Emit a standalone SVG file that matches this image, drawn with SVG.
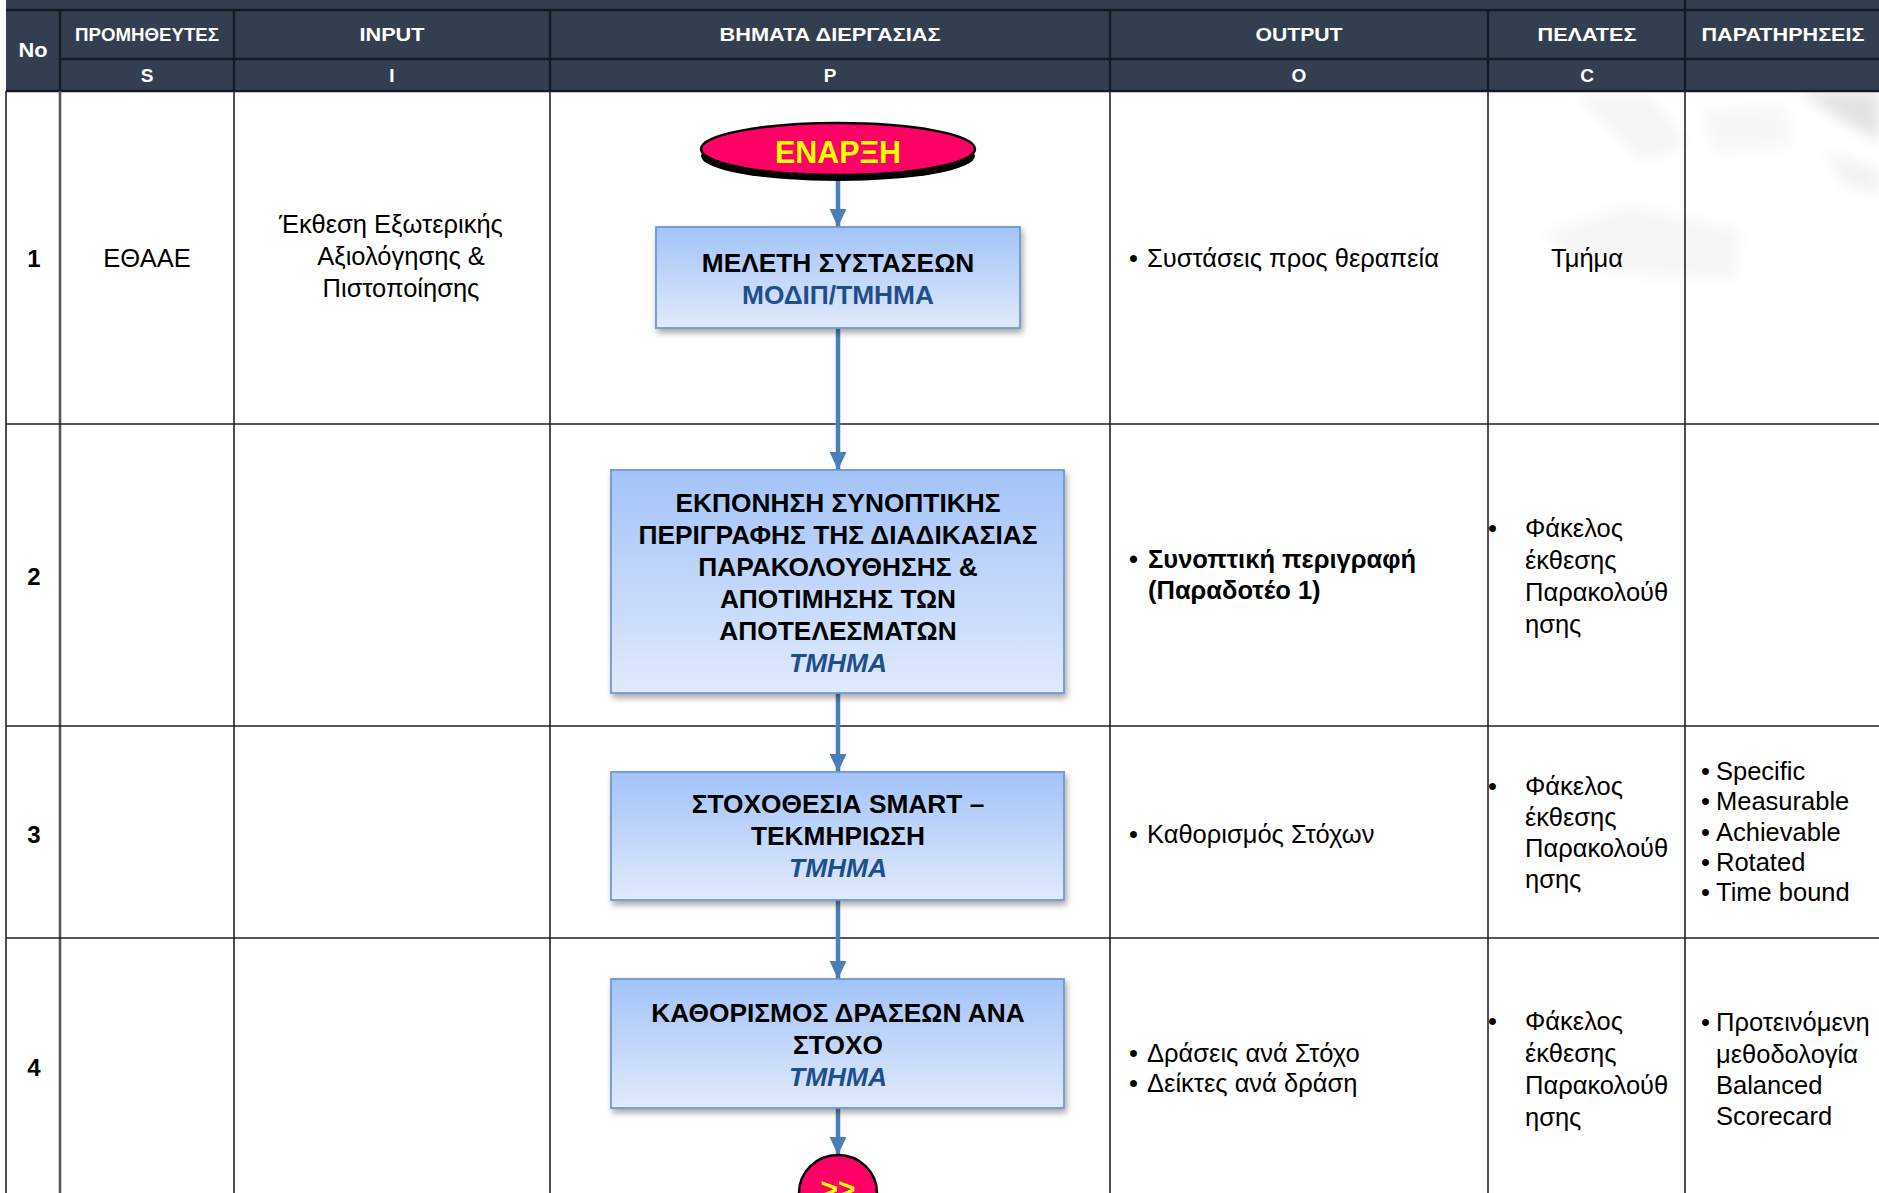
<svg xmlns="http://www.w3.org/2000/svg" width="1879" height="1193" viewBox="0 0 1879 1193">
  <style>
    .hd { font-family: "Liberation Sans Narrow", "Liberation Sans", Arial, sans-serif; font-weight: bold; fill: #ffffff; text-anchor: middle; }
    .body { font-family: "Liberation Sans", Arial, sans-serif; font-size: 25.5px; fill: #000000; }
    .num { font-family: "Liberation Sans", Arial, sans-serif; font-size: 24px; font-weight: bold; fill: #000000; text-anchor: middle; }
    .mid { text-anchor: middle; }
    .bold { font-weight: bold; }
    .grid { stroke: #222222; stroke-width: 1.6; fill: none; }
    .hgrid { stroke: #151a22; stroke-width: 2.4; fill: none; }
    .step { fill: url(#stepFill); stroke: #6f98d0; stroke-width: 1.8; filter: url(#shadow); }
    .stepTxt { font-family: "Liberation Sans", Arial, sans-serif; font-size: 26.3px; font-weight: bold; fill: #000000; text-anchor: middle; }
    .owner { fill: #1f4e8c; }
    .ital { font-style: italic; }
    .term { fill: #ff0066; stroke: #000000; stroke-width: 2.5; }
    .termTxt { font-family: "Liberation Sans", Arial, sans-serif; font-weight: bold; fill: #ffff00; text-anchor: middle; }
    .flow { stroke: #4a7ebb; stroke-width: 4.5; fill: none; marker-end: url(#head); }
  </style>
  <defs>
    <linearGradient id="stepFill" x1="0" y1="0" x2="0" y2="1">
      <stop offset="0" stop-color="#a3c3f8"/>
      <stop offset="1" stop-color="#e0eafc"/>
    </linearGradient>
    <filter id="shadow" x="-10%" y="-10%" width="120%" height="130%">
      <feDropShadow dx="2" dy="4" stdDeviation="3" flood-color="#000000" flood-opacity="0.35"/>
    </filter>
    <filter id="soft" x="-20%" y="-20%" width="140%" height="140%">
      <feGaussianBlur stdDeviation="7"/>
    </filter>
    <marker id="head" viewBox="0 0 18 17" refX="18" refY="8.5" markerWidth="18" markerHeight="17" markerUnits="userSpaceOnUse" orient="auto">
      <path d="M0,0 L18,8.5 L0,17 Z" fill="#4a7ebb"/>
    </marker>
  </defs>

  <rect x="0" y="0" width="1879" height="1193" fill="#ffffff"/>

  <!-- faint watermark logo behind the right-hand cells -->
  <g filter="url(#soft)">
    <polygon points="1575,95 1650,95 1690,145 1640,160 1605,125" fill="#f5f5f5"/>
    <polygon points="1800,92 1879,92 1879,140 1850,125" fill="#e2e2e2"/>
    <polygon points="1825,150 1879,170 1879,195 1845,185" fill="#f2f2f2"/>
    <polygon points="1540,235 1630,205 1740,230 1735,280 1600,272" fill="#f6f6f6"/>
    <polygon points="1700,110 1785,105 1795,145 1715,155" fill="#f7f7f7"/>
  </g>

  <!-- header band -->
  <g id="header">
    <rect x="6" y="0" width="1873" height="91" fill="#333f50"/>
    <line class="hgrid" x1="6" y1="10" x2="1879" y2="10"/>
    <line class="hgrid" x1="60" y1="59" x2="1879" y2="59"/>
    <line class="hgrid" x1="6" y1="91" x2="1879" y2="91"/>
    <line class="hgrid" x1="60" y1="10" x2="60" y2="91"/>
    <line class="hgrid" x1="234" y1="10" x2="234" y2="91"/>
    <line class="hgrid" x1="550" y1="10" x2="550" y2="91"/>
    <line class="hgrid" x1="1110" y1="10" x2="1110" y2="91"/>
    <line class="hgrid" x1="1488" y1="10" x2="1488" y2="91"/>
    <line class="hgrid" x1="1685" y1="0" x2="1685" y2="91"/>
    <text class="hd" x="33" y="57" font-size="21" textLength="29" lengthAdjust="spacingAndGlyphs">No</text>
    <text class="hd" x="147" y="41" font-size="19" textLength="144" lengthAdjust="spacingAndGlyphs">ΠΡΟΜΗΘΕΥΤΕΣ</text>
    <text class="hd" x="392" y="41" font-size="19" textLength="65" lengthAdjust="spacingAndGlyphs">INPUT</text>
    <text class="hd" x="830" y="41" font-size="19" textLength="221" lengthAdjust="spacingAndGlyphs">ΒΗΜΑΤΑ ΔΙΕΡΓΑΣΙΑΣ</text>
    <text class="hd" x="1299" y="41" font-size="19" textLength="87" lengthAdjust="spacingAndGlyphs">OUTPUT</text>
    <text class="hd" x="1587" y="41" font-size="19" textLength="99" lengthAdjust="spacingAndGlyphs">ΠΕΛΑΤΕΣ</text>
    <text class="hd" x="1783" y="41" font-size="19" textLength="163" lengthAdjust="spacingAndGlyphs">ΠΑΡΑΤΗΡΗΣΕΙΣ</text>
    <text class="hd" x="147" y="82" font-size="19">S</text>
    <text class="hd" x="392" y="82" font-size="19">I</text>
    <text class="hd" x="830" y="82" font-size="19">P</text>
    <text class="hd" x="1299" y="82" font-size="19">O</text>
    <text class="hd" x="1587" y="82" font-size="19">C</text>
  </g>

  <!-- body grid -->
  <g id="grid">
    <line class="grid" x1="6" y1="91" x2="6" y2="1193"/>
    <line x1="60" y1="91" x2="60" y2="1193" stroke="#555555" stroke-width="2.6"/>
    <line class="grid" x1="234" y1="91" x2="234" y2="1193"/>
    <line class="grid" x1="550" y1="91" x2="550" y2="1193"/>
    <line class="grid" x1="1110" y1="91" x2="1110" y2="1193"/>
    <line class="grid" x1="1488" y1="91" x2="1488" y2="1193"/>
    <line class="grid" x1="1685" y1="91" x2="1685" y2="1193"/>
    <line class="grid" x1="6" y1="424" x2="1879" y2="424"/>
    <line class="grid" x1="6" y1="726" x2="1879" y2="726"/>
    <line class="grid" x1="6" y1="938" x2="1879" y2="938"/>
  </g>

  <!-- row 1 -->
  <g id="row1">
    <text class="num" x="34" y="267">1</text>
    <text class="body mid" x="147" y="267">ΕΘΑΑΕ</text>
    <text class="body mid" x="391" y="233">Έκθεση Εξωτερικής</text>
    <text class="body mid" x="401" y="265">Αξιολόγησης &amp;</text>
    <text class="body mid" x="401" y="297">Πιστοποίησης</text>
    <text class="body" x="1129" y="267">•</text>
    <text class="body" x="1147" y="267">Συστάσεις προς θεραπεία</text>
    <text class="body mid" x="1587" y="267">Τμήμα</text>
  </g>

  <!-- row 2 -->
  <g id="row2">
    <text class="num" x="34" y="585">2</text>
    <text class="body bold" x="1129" y="568">•</text>
    <text class="body bold" x="1148" y="568">Συνοπτική περιγραφή</text>
    <text class="body bold" x="1148" y="599">(Παραδοτέο 1)</text>
    <text class="body" x="1488" y="537">•</text>
    <text class="body" x="1525" y="537">Φάκελος</text>
    <text class="body" x="1525" y="569">έκθεσης</text>
    <text class="body" x="1525" y="601">Παρακολούθ</text>
    <text class="body" x="1525" y="633">ησης</text>
  </g>

  <!-- row 3 -->
  <g id="row3">
    <text class="num" x="34" y="843">3</text>
    <text class="body" x="1129" y="843">•</text>
    <text class="body" x="1147" y="843">Καθορισμός Στόχων</text>
    <text class="body" x="1488" y="795">•</text>
    <text class="body" x="1525" y="795">Φάκελος</text>
    <text class="body" x="1525" y="826">έκθεσης</text>
    <text class="body" x="1525" y="857">Παρακολούθ</text>
    <text class="body" x="1525" y="888">ησης</text>
    <text class="body" x="1701" y="780">•</text>
    <text class="body" x="1716" y="780">Specific</text>
    <text class="body" x="1701" y="810">•</text>
    <text class="body" x="1716" y="810">Measurable</text>
    <text class="body" x="1701" y="841">•</text>
    <text class="body" x="1716" y="841">Achievable</text>
    <text class="body" x="1701" y="871">•</text>
    <text class="body" x="1716" y="871">Rotated</text>
    <text class="body" x="1701" y="901">•</text>
    <text class="body" x="1716" y="901">Time bound</text>
  </g>

  <!-- row 4 -->
  <g id="row4">
    <text class="num" x="34" y="1076">4</text>
    <text class="body" x="1129" y="1062">•</text>
    <text class="body" x="1147" y="1062">Δράσεις ανά Στόχο</text>
    <text class="body" x="1129" y="1092">•</text>
    <text class="body" x="1147" y="1092">Δείκτες ανά δράση</text>
    <text class="body" x="1488" y="1030">•</text>
    <text class="body" x="1525" y="1030">Φάκελος</text>
    <text class="body" x="1525" y="1062">έκθεσης</text>
    <text class="body" x="1525" y="1094">Παρακολούθ</text>
    <text class="body" x="1525" y="1126">ησης</text>
    <text class="body" x="1701" y="1031">•</text>
    <text class="body" x="1716" y="1031">Προτεινόμενη</text>
    <text class="body" x="1716" y="1063">μεθοδολογία</text>
    <text class="body" x="1716" y="1094">Balanced</text>
    <text class="body" x="1716" y="1125">Scorecard</text>
  </g>

  <!-- process flow connectors -->
  <g id="connectors">
    <line class="flow" x1="838" y1="180" x2="838" y2="227"/>
    <line class="flow" x1="838" y1="328" x2="838" y2="470"/>
    <line class="flow" x1="838" y1="693" x2="838" y2="772"/>
    <line class="flow" x1="838" y1="900" x2="838" y2="979"/>
    <line class="flow" x1="838" y1="1108" x2="838" y2="1155"/>
  </g>

  <!-- start terminator -->
  <g id="start">
    <ellipse cx="838" cy="156" rx="137" ry="25" fill="#000000"/>
    <ellipse class="term" cx="838" cy="149" rx="137" ry="26"/>
    <text class="termTxt" x="838" y="163" font-size="32" textLength="126" lengthAdjust="spacingAndGlyphs">ΕΝΑΡΞΗ</text>
  </g>

  <g id="step1">
    <rect class="step" x="656" y="227" width="364" height="101"/>
    <text class="stepTxt" x="838" y="272">ΜΕΛΕΤΗ ΣΥΣΤΑΣΕΩΝ</text>
    <text class="stepTxt owner" x="838" y="304">ΜΟΔΙΠ/ΤΜΗΜΑ</text>
  </g>

  <g id="step2">
    <rect class="step" x="611" y="470" width="453" height="223"/>
    <text class="stepTxt" x="838" y="512">ΕΚΠΟΝΗΣΗ ΣΥΝΟΠΤΙΚΗΣ</text>
    <text class="stepTxt" x="838" y="544">ΠΕΡΙΓΡΑΦΗΣ ΤΗΣ ΔΙΑΔΙΚΑΣΙΑΣ</text>
    <text class="stepTxt" x="838" y="576">ΠΑΡΑΚΟΛΟΥΘΗΣΗΣ &amp;</text>
    <text class="stepTxt" x="838" y="608">ΑΠΟΤΙΜΗΣΗΣ ΤΩΝ</text>
    <text class="stepTxt" x="838" y="640">ΑΠΟΤΕΛΕΣΜΑΤΩΝ</text>
    <text class="stepTxt owner ital" x="838" y="672">ΤΜΗΜΑ</text>
  </g>

  <g id="step3">
    <rect class="step" x="611" y="772" width="453" height="128"/>
    <text class="stepTxt" x="838" y="813">ΣΤΟΧΟΘΕΣΙΑ SMART –</text>
    <text class="stepTxt" x="838" y="845">ΤΕΚΜΗΡΙΩΣΗ</text>
    <text class="stepTxt owner ital" x="838" y="877">ΤΜΗΜΑ</text>
  </g>

  <g id="step4">
    <rect class="step" x="611" y="979" width="453" height="129"/>
    <text class="stepTxt" x="838" y="1022">ΚΑΘΟΡΙΣΜΟΣ ΔΡΑΣΕΩΝ ΑΝΑ</text>
    <text class="stepTxt" x="838" y="1054">ΣΤΟΧΟ</text>
    <text class="stepTxt owner ital" x="838" y="1086">ΤΜΗΜΑ</text>
  </g>

  <!-- continuation connector to the next page -->
  <g id="next">
    <ellipse class="term" cx="838" cy="1193" rx="39" ry="38"/>
    <text class="termTxt" x="838" y="1199" font-size="30">&gt;&gt;</text>
  </g>
</svg>
